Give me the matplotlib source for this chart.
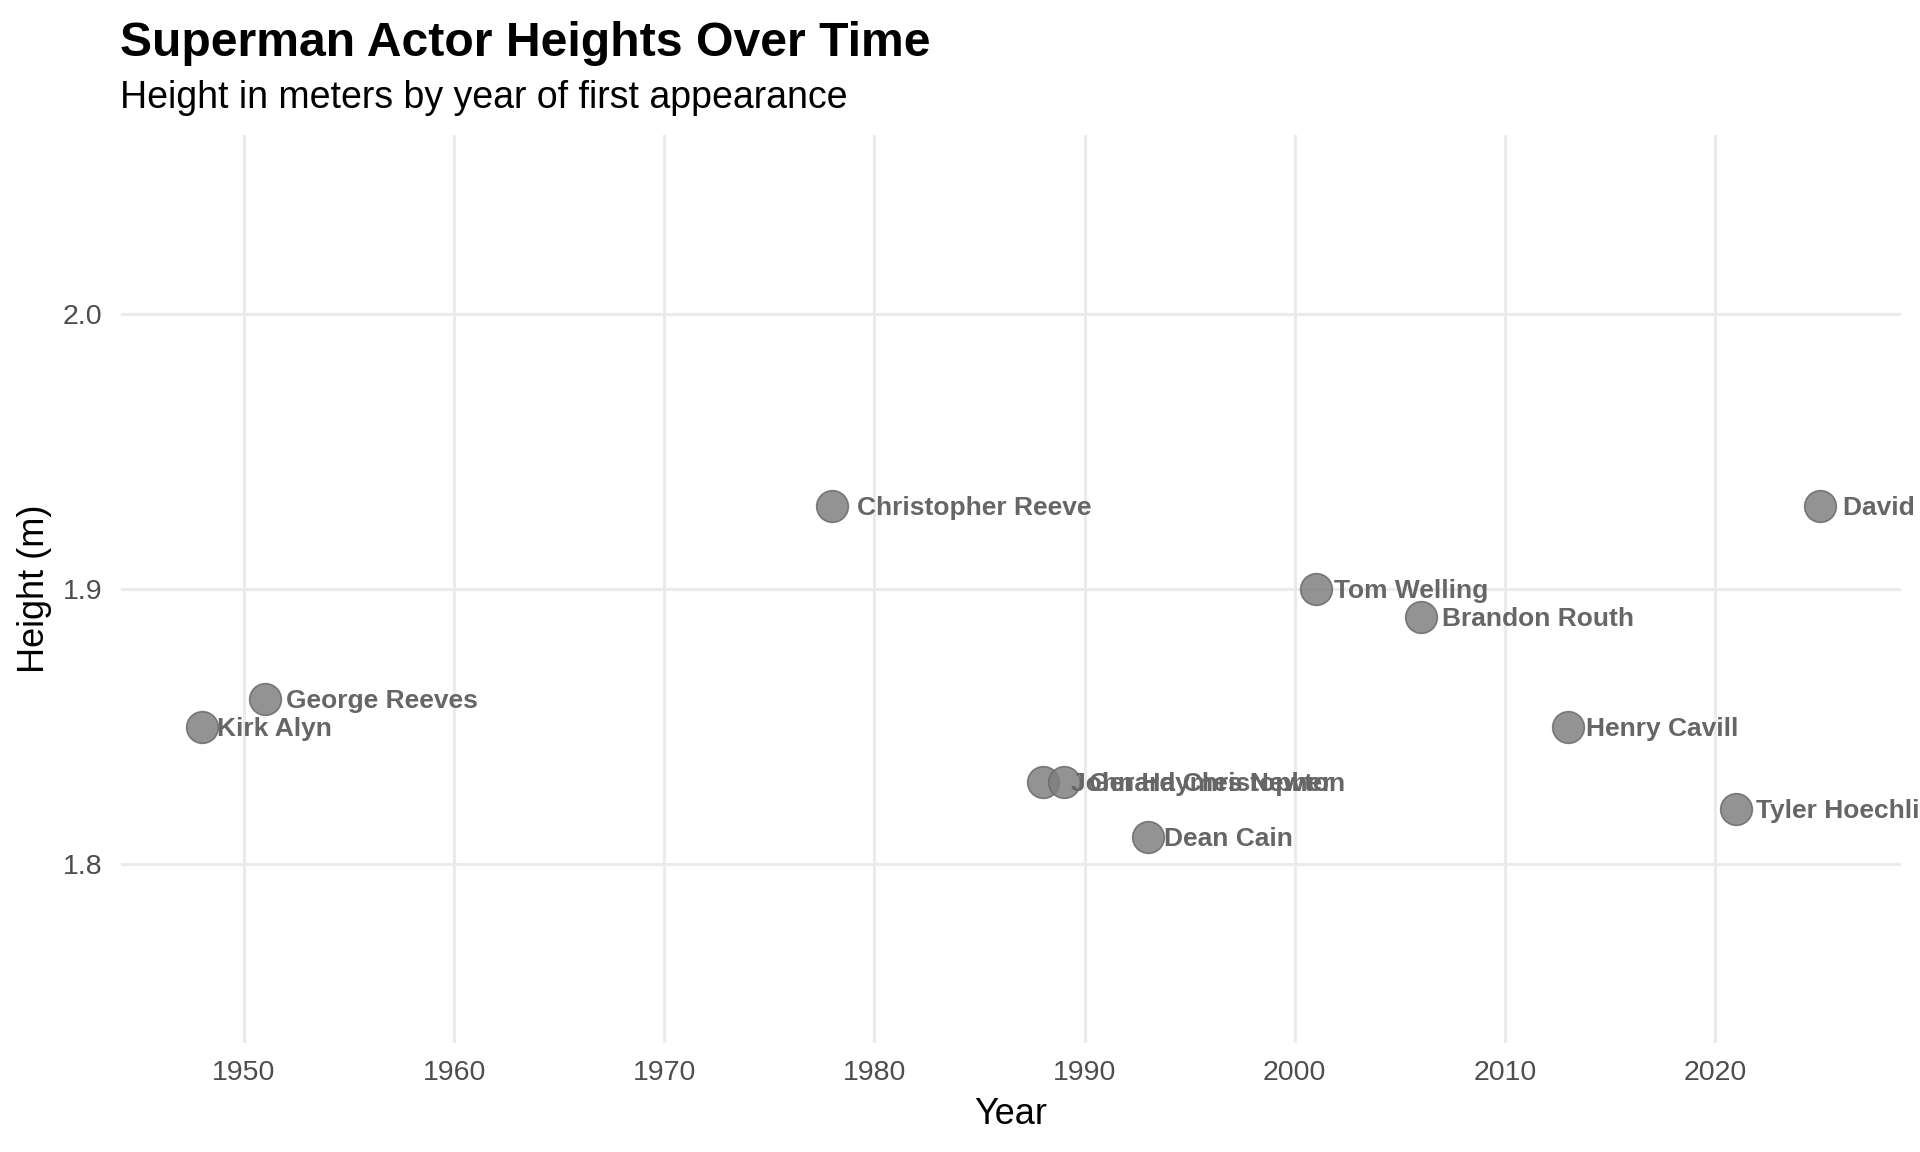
import matplotlib
matplotlib.use("Agg")
import matplotlib.pyplot as plt
from matplotlib.transforms import ScaledTranslation

plt.rcParams['font.family'] = ['Liberation Sans', 'DejaVu Sans']

actors = ["Kirk Alyn", "George Reeves", "Christopher Reeve", "John Haymes Newton",
          "Gerard Christopher", "Dean Cain", "Tom Welling", "Brandon Routh",
          "Henry Cavill", "Tyler Hoechlin", "David Corenswet"]
years = [1948, 1951, 1978, 1988, 1989, 1993, 2001, 2006, 2013, 2021, 2025]
heights = [1.85, 1.86, 1.93, 1.83, 1.83, 1.81, 1.90, 1.89, 1.85, 1.82, 1.93]

x_ticks = [1950, 1960, 1970, 1980, 1990, 2000, 2010, 2020]
y_ticks = [1.8, 1.9, 2.0]

DPI = 100
W, H = 1920, 1152
fig = plt.figure(figsize=(W / DPI, H / DPI), dpi=DPI)
left, right, top, bottom = 121, 1901, 135, 1043
ax = fig.add_axes([left / W, 1 - bottom / H, (right - left) / W, (bottom - top) / H])

ax.set_xlim(1944.15, 2028.85)
ax.set_ylim(1.735, 2.065)
ax.set_xticks(x_ticks)
ax.set_yticks(y_ticks)
ax.set_yticklabels([f"{v:.1f}" for v in y_ticks])
ax.grid(True, color="#EBEBEB", linewidth=2.2)
ax.set_axisbelow(True)
for s in ax.spines.values():
    s.set_visible(False)
ax.tick_params(length=0, labelsize=20.5, labelcolor="#4D4D4D")
ax.tick_params(axis="x", pad=12)
ax.tick_params(axis="y", pad=13.5)

ax.scatter(years, heights, s=520, color="#808080", alpha=0.85,
           edgecolors="#6a6a6a", linewidths=1.2, zorder=3)

texts = []
for name, x, y in zip(actors, years, heights):
    t = ax.text(x, y, name, fontsize=19, fontweight="bold", color="#666666",
                ha="left", va="center", clip_on=False, zorder=4)
    texts.append(t)

fig.canvas.draw()
renderer = fig.canvas.get_renderer()
for t in texts:
    w = t.get_window_extent(renderer).width
    dx = (5 + 0.085 * w) / DPI
    dy = -2 / DPI
    t.set_transform(ax.transData + ScaledTranslation(dx, dy, fig.dpi_scale_trans))

ax.set_xlabel("Year", fontsize=26, color="black")
ax.set_ylabel("Height (m)", fontsize=26, color="black")
ax.xaxis.set_label_coords(0.5, -(1114 - bottom) / (bottom - top))
ax.xaxis.label.set_verticalalignment("center")
ax.yaxis.set_label_coords(-(left - 34) / (right - left), 0.5)
ax.yaxis.label.set_verticalalignment("center")

fig.text(120 / W, 1 - 56 / H, "Superman Actor Heights Over Time", fontsize=34.7,
         fontweight="bold", color="black", ha="left", va="baseline")
fig.text(120 / W, 1 - 108 / H, "Height in meters by year of first appearance",
         fontsize=27, color="black", ha="left", va="baseline")

fig.savefig("out.png", dpi=DPI)
